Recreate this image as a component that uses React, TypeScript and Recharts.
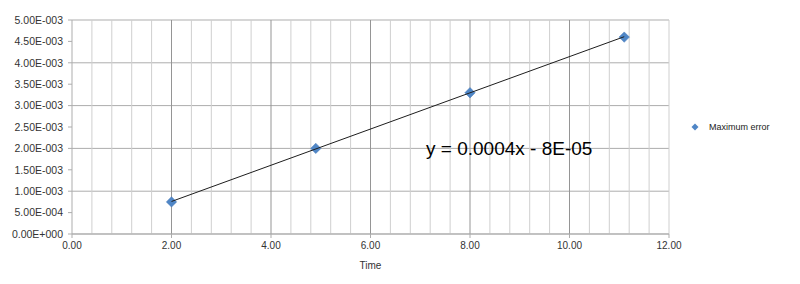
import { ScatterChart, Scatter, XAxis, YAxis, CartesianGrid, ReferenceLine } from 'recharts';

const times = [2.0, 4.9, 8.0, 11.1];
const maxErrors = [0.00075, 0.002, 0.0033, 0.0046];

// trendline end points
const trendTimes = [2.0, 11.1];
const trendValues = [0.00076, 0.00461];

const xMajorTicks = [0, 2, 4, 6, 8, 10, 12];
const xInnerMajor = [2, 4, 6, 8, 10];
const xMinorLines = [
  0.4, 0.8, 1.2, 1.6, 2.4, 2.8, 3.2, 3.6, 4.4, 4.8, 5.2, 5.6, 6.4, 6.8, 7.2, 7.6, 8.4, 8.8, 9.2,
  9.6, 10.4, 10.8, 11.2, 11.6, 12,
];
const yTicks = [0, 0.0005, 0.001, 0.0015, 0.002, 0.0025, 0.003, 0.0035, 0.004, 0.0045, 0.005];

const seriesName = 'Maximum error';
const equation = 'y = 0.0004x - 8E-05';
const xTitle = 'Time';

const BLUE = '#4f86c6';
const FONT = '"Liberation Sans", Arial, sans-serif';

// Excel style scientific labels: 5.00E-003
const sci = (v: number) => {
  if (v === 0) return '0.00E+000';
  const [m, e] = v.toExponential(2).split('e');
  const n = parseInt(e, 10);
  const sign = n < 0 ? '-' : '+';
  return `${m}E${sign}${String(Math.abs(n)).padStart(3, '0')}`;
};

const Diamond = (props: any) => {
  const { cx, cy } = props;
  if (cx == null || cy == null) return <g />;
  const r = 5.2;
  return (
    <polygon
      points={`${cx},${cy - r} ${cx + r},${cy} ${cx},${cy + r} ${cx - r},${cy}`}
      fill={BLUE}
      stroke="#4579b8"
      strokeWidth={0.5}
    />
  );
};

export default function App() {
  const points = times.map((t, i) => ({ x: t, y: maxErrors[i] }));
  const trend = trendTimes.map((t, i) => ({ x: t, y: trendValues[i] }));

  return (
    <div style={{ position: 'absolute', left: 0, top: 0, width: 800, height: 284, background: '#fff', fontFamily: FONT }}>
      <ScatterChart width={800} height={284} margin={{ top: 20, right: 131, bottom: 0, left: 0 }}>
        <CartesianGrid vertical={false} stroke="#adadad" strokeWidth={1} />
        {xMinorLines.map((v) => (
          <ReferenceLine key={'m' + v} x={v} stroke="#cfcfcf" strokeWidth={1} />
        ))}
        {xInnerMajor.map((v) => (
          <ReferenceLine key={'M' + v} x={v} stroke="#959595" strokeWidth={1} />
        ))}
        <XAxis
          type="number"
          dataKey="x"
          domain={[0, 12]}
          ticks={xMajorTicks}
          height={50}
          tickFormatter={(v) => v.toFixed(2)}
          tick={{ fontSize: 10, fill: '#333', fontFamily: FONT }}
          tickSize={4}
          tickMargin={4}
          axisLine={{ stroke: '#adadad' }}
          tickLine={{ stroke: '#adadad' }}
          label={{ value: xTitle, position: 'insideBottom', offset: 15, fontSize: 10, fill: '#333', fontFamily: FONT }}
        />
        <YAxis
          type="number"
          dataKey="y"
          domain={[0, 0.005]}
          ticks={yTicks}
          width={72}
          tickFormatter={sci}
          tick={{ fontSize: 10.5, fill: '#333', fontFamily: FONT }}
          tickSize={4}
          tickMargin={5}
          axisLine={{ stroke: '#adadad' }}
          tickLine={{ stroke: '#adadad' }}
        />
        <Scatter name={seriesName} data={points} shape={Diamond} isAnimationActive={false} />
        <Scatter
          name="trend"
          data={trend}
          line={{ stroke: '#1e1e1e', strokeWidth: 1 }}
          shape={() => <g />}
          legendType="none"
          isAnimationActive={false}
        />
      </ScatterChart>
      <div
        style={{
          position: 'absolute',
          left: 426,
          top: 139,
          fontSize: 19,
          lineHeight: '19px',
          color: '#000',
          whiteSpace: 'nowrap',
        }}
      >
        {equation}
      </div>
      <div style={{ position: 'absolute', left: 691, top: 121, height: 12, display: 'flex', alignItems: 'center' }}>
        <svg width={8} height={8} style={{ display: 'block' }}>
          <polygon points="4,0.5 7.5,4 4,7.5 0.5,4" fill={BLUE} />
        </svg>
        <span style={{ marginLeft: 10, fontSize: 9, color: '#222', whiteSpace: 'nowrap' }}>{seriesName}</span>
      </div>
    </div>
  );
}
